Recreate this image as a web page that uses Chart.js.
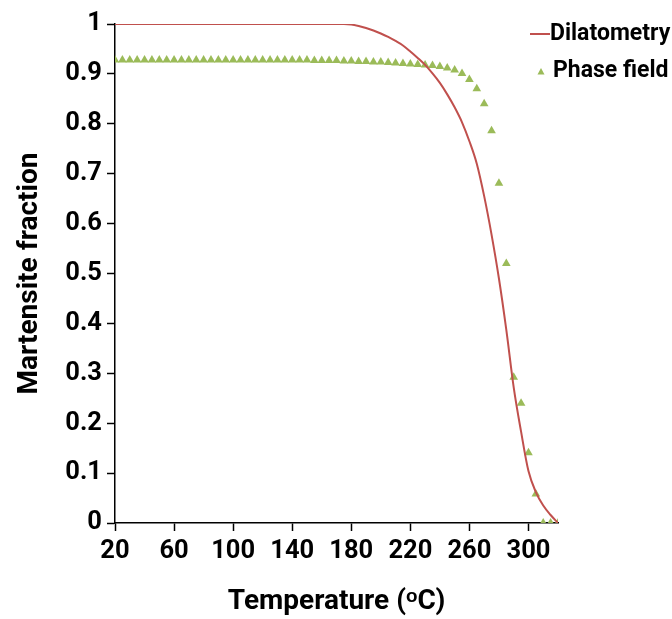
<!DOCTYPE html>
<html>
<head>
<meta charset="utf-8">
<script src="https://cdn.jsdelivr.net/npm/chart.js@4"></script>
<style>
  html, body { margin: 0; padding: 0; background: #fff; }
  #wrap { position: relative; width: 672px; height: 619px; }
  .leg {
    position: absolute; height: 30px; line-height: 30px; white-space: nowrap;
    font: bold 23px Roboto, sans-serif; color: #000;
  }
  .leg svg { position: absolute; top: 10px; }
  .leg span { position: absolute; top: 0; }
</style>
</head>
<body>
<div id="wrap">
  <canvas id="chart" width="672" height="619"></canvas>
  <div class="leg" id="leg0" style="left:529px; top:19px;"></div>
  <div class="leg" id="leg1" style="left:529px; top:56px;"></div>
</div>
<script>
// Dilatometry curve (temperature in oC, martensite fraction)
const dilTemp = [20, 100, 170, 175, 180, 185, 190, 195, 200, 205, 210, 215, 220, 225, 230,
  235, 240, 245, 250, 255, 260, 265, 270, 275, 280, 285, 290, 295, 300, 305, 310, 315, 320];
const dilFraction = [1, 1, 1, 1.0, 0.999, 0.996, 0.992, 0.987, 0.981, 0.974, 0.966, 0.957, 0.945, 0.932, 0.918,
  0.901, 0.882, 0.859, 0.833, 0.803, 0.765, 0.720, 0.655, 0.578, 0.490, 0.387, 0.272, 0.183, 0.104, 0.062, 0.035, 0.016, 0];

// Phase field simulation, every 5 oC from 20 to 320
const pfTemp = [20, 25, 30, 35, 40, 45, 50, 55, 60, 65, 70, 75, 80, 85, 90, 95, 100, 105, 110, 115,
  120, 125, 130, 135, 140, 145, 150, 155, 160, 165, 170, 175, 180, 185, 190, 195, 200, 205, 210, 215,
  220, 225, 230, 235, 240, 245, 250, 255, 260, 265, 270, 275, 280, 285, 290, 295, 300, 305, 310, 315, 320];
const pfFraction = [0.928, 0.928, 0.928, 0.928, 0.928, 0.928, 0.928, 0.928, 0.928, 0.928, 0.928, 0.928, 0.928, 0.928, 0.928, 0.928, 0.928, 0.928, 0.928, 0.928,
  0.928, 0.928, 0.928, 0.928, 0.928, 0.928, 0.928, 0.927, 0.927, 0.927, 0.927, 0.926, 0.926, 0.925, 0.925, 0.924, 0.924, 0.923, 0.922, 0.921,
  0.920, 0.919, 0.918, 0.917, 0.915, 0.912, 0.908, 0.901, 0.889, 0.870, 0.840, 0.786, 0.681, 0.520, 0.292, 0.240, 0.141, 0.058, 0, 0, 0];

const xTicks = [20, 60, 100, 140, 180, 220, 260, 300];
const seriesNames = ['Dilatometry', 'Phase field'];

const RED = 'rgb(192, 80, 77)';
const GREEN = 'rgb(155, 187, 89)';
const FONT = 'Roboto, sans-serif';

const axisCommon = {
  border: { color: '#000', width: 1.5 },
  grid: { drawOnChartArea: false, drawTicks: true, tickLength: 8, tickColor: '#000', tickWidth: 1.5 },
  ticks: { color: '#000', font: { family: FONT, size: 25.5, weight: 'bold' } },
  title: { display: true, color: '#000', font: { family: FONT, size: 28, weight: 'bold' } }
};

const chart = new Chart(document.getElementById('chart'), {
  type: 'scatter',
  data: {
    datasets: [
      {
        label: seriesNames[0],
        data: dilTemp.map((t, i) => ({ x: t, y: dilFraction[i] })),
        showLine: true,
        borderColor: RED,
        borderWidth: 2,
        pointRadius: 0,
        cubicInterpolationMode: 'monotone'
      },
      {
        label: seriesNames[1],
        data: pfTemp.map((t, i) => ({ x: t, y: pfFraction[i] })),
        showLine: false,
        pointStyle: 'triangle',
        pointRadius: 5,
        backgroundColor: GREEN,
        borderColor: GREEN,
        borderWidth: 0
      }
    ]
  },
  options: {
    responsive: false,
    animation: false,
    layout: { padding: { left: 0, right: 114, top: 24, bottom: 0 } },
    plugins: { legend: { display: false }, tooltip: { enabled: false } },
    scales: {
      x: {
        ...axisCommon,
        type: 'linear',
        min: 20,
        max: 320,
        afterBuildTicks: axis => { axis.ticks = xTicks.map(v => ({ value: v })); },
        afterFit: axis => { axis.height = 96; },
        ticks: { ...axisCommon.ticks, padding: 5, maxRotation: 0 },
        title: { ...axisCommon.title, text: 'Temperature (ᵒC)', padding: { top: 0, bottom: 0 } }
      },
      y: {
        ...axisCommon,
        min: 0,
        max: 1,
        ticks: {
          ...axisCommon.ticks, stepSize: 0.1, padding: 5,
          callback: v => (v === 0 || v === 1) ? String(v) : v.toFixed(1)
        },
        afterFit: axis => { axis.width = 115; },
        title: { ...axisCommon.title, text: 'Martensite fraction', padding: { top: 13, bottom: 0 } }
      }
    }
  }
});

// legend drawn as html next to the plot
document.getElementById('leg0').innerHTML =
  '<svg width="20" height="10" style="left:1px"><line x1="0" y1="5" x2="20" y2="5" stroke="' + RED + '" stroke-width="2"/></svg>' +
  '<span style="left:21px">' + seriesNames[0] + '</span>';
document.getElementById('leg1').innerHTML =
  '<svg width="10" height="10" style="left:7px"><polygon points="5,2 8.5,8.5 1.5,8.5" fill="' + GREEN + '"/></svg>' +
  '<span style="left:24px">' + seriesNames[1] + '</span>';
</script>
</body>
</html>
